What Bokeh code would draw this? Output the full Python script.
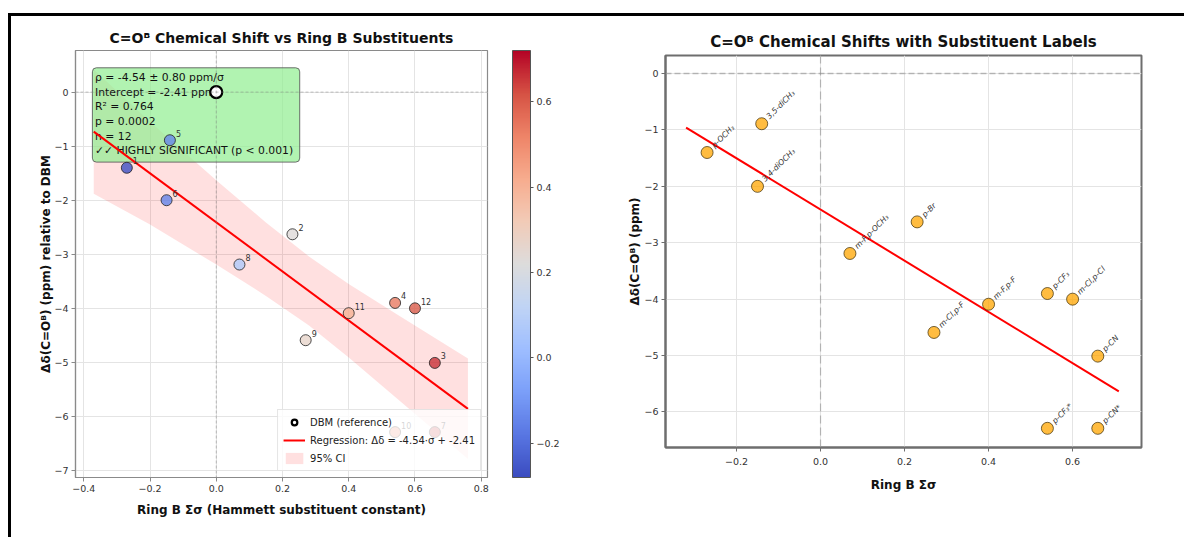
import math
import numpy as np
from bokeh.plotting import figure
from bokeh.models import (ColumnDataSource, ColorBar, FixedTicker, CustomJSTickFormatter,
                          Span, Legend, LegendItem, BoxAnnotation, Range1d, Spacer)
from bokeh.layouts import row
from bokeh.transform import linear_cmap
from bokeh.core.properties import value
from bokeh.embed import file_html
from bokeh.resources import INLINE

# ---------------- data ----------------
compound_ids = ["1", "5", "6", "8", "2", "9", "11", "4", "12", "3", "10", "7"]
substituents = ["p-OCH₃", "3,5-diCH₃", "3,4-diOCH₃", "m-F,p-OCH₃", "p-Br", "m-Cl,p-F",
                "m-F,p-F", "p-CF₃", "m-Cl,p-Cl", "p-CN", "p-CF₃*", "p-CN*"]
sigma = [-0.27, -0.14, -0.15, 0.07, 0.23, 0.27, 0.40, 0.54, 0.60, 0.66, 0.54, 0.66]
delta = [-1.40, -0.89, -2.00, -3.19, -2.63, -4.59, -4.09, -3.90, -4.00, -5.01, -6.29, -6.29]

dbm_sigma = [0.0]
dbm_delta = [0.0]

slope = -4.54
slope_err = 0.80
intercept = -2.41
r_squared = 0.764
p_value = 0.0002
n_points = 12

ci_sigma = [-0.37, -0.20, 0.00, 0.15, 0.28, 0.40, 0.55, 0.76]
ci_upper = [0.42, -0.55, -1.63, -2.41, -3.04, -3.55, -4.13, -4.93]
ci_lower = [-1.88, -2.45, -3.19, -3.77, -4.32, -4.91, -5.69, -6.79]

x_ticks_left = [-0.4, -0.2, 0.0, 0.2, 0.4, 0.6, 0.8]
y_ticks_left = [0, -1, -2, -3, -4, -5, -6, -7]
x_ticks_right = [-0.2, 0.0, 0.2, 0.4, 0.6]
y_ticks_right = [0, -1, -2, -3, -4, -5, -6]
cbar_ticks = [-0.2, 0.0, 0.2, 0.4, 0.6]

# ---------------- styling helpers ----------------
FONT = "DejaVu Sans"
coolwarm_anchors = ["#3b4cc0", "#5977e3", "#7b9ff9", "#9ebeff", "#c0d4f5", "#dddcdc",
                    "#f2cbb7", "#f7ac8e", "#ee8468", "#d65244", "#b40426"]


def build_palette(anchors, n=256):
    rgb = np.array([[int(h[i:i + 2], 16) for i in (1, 3, 5)] for h in anchors], dtype=float)
    pos = np.linspace(0, 1, len(anchors))
    t = np.linspace(0, 1, n)
    out = []
    for v in t:
        c = [int(round(np.interp(v, pos, rgb[:, k]))) for k in range(3)]
        out.append("#%02x%02x%02x" % tuple(c))
    return out


palette = build_palette(coolwarm_anchors)
fmt1 = CustomJSTickFormatter(code="return tick.toFixed(1).replace('-', '\u2212');")
fmt0 = CustomJSTickFormatter(code="return tick.toFixed(0).replace('-', '\u2212');")


def style_axes(p, xticks, yticks, frame_color, frame_width, title_size):
    p.xaxis.ticker = FixedTicker(ticks=xticks)
    p.yaxis.ticker = FixedTicker(ticks=yticks)
    p.xaxis.formatter = fmt1
    p.yaxis.formatter = fmt0
    for ax in (p.xaxis[0], p.yaxis[0]):
        ax.major_label_text_font = FONT
        ax.major_label_text_font_size = "9.5px"
        ax.major_label_text_color = "#333333"
        ax.axis_label_text_font = FONT
        ax.axis_label_text_font_size = "12px"
        ax.axis_label_text_font_style = "bold"
        ax.axis_label_text_color = "#111111"
        ax.major_tick_in = 0
        ax.major_tick_out = 4
        ax.minor_tick_in = 0
        ax.minor_tick_out = 0
        ax.major_label_standoff = 3
        ax.axis_line_color = frame_color
        ax.axis_line_width = frame_width
        ax.major_tick_line_color = frame_color
    p.outline_line_color = frame_color
    p.outline_line_width = frame_width
    p.grid.grid_line_color = "#e4e4e4"
    p.grid.grid_line_width = 1
    p.title.text_font = FONT
    p.title.text_font_size = title_size
    p.title.text_font_style = "bold"
    p.title.text_color = "#111111"
    p.title.align = "center"
    try:
        p.frame_align = False
    except Exception:
        pass


# ---------------- left figure ----------------
p1 = figure(width=590, height=521, x_range=Range1d(-0.425, 0.819), y_range=Range1d(-7.13, 0.77),
            output_backend="svg", toolbar_location=None,
            min_border_left=64, min_border_right=114, min_border_top=34, min_border_bottom=60,
            title="C=Oᴮ Chemical Shift vs Ring B Substituents")
style_axes(p1, x_ticks_left, y_ticks_left, "#8a8a8a", 1.2, "14px")
p1.xaxis.axis_label = "Ring B Σσ (Hammett substituent constant)"
p1.yaxis.axis_label = "Δδ(C=Oᴮ) (ppm) relative to DBM"
p1.xaxis.axis_label_standoff = 8
p1.yaxis.axis_label_standoff = -2

p1.add_layout(Span(location=0, dimension="width", line_color="gray", line_alpha=0.6,
                   line_width=0.8, line_dash="3 2"))
p1.add_layout(Span(location=0, dimension="height", line_color="gray", line_alpha=0.6,
                   line_width=0.8, line_dash="3 2"))

r_band = p1.varea(x=ci_sigma, y1=ci_lower, y2=ci_upper, fill_color="red", fill_alpha=0.12)

stats_box = BoxAnnotation(left=-0.374, right=0.252, top=0.45, bottom=-1.295,
                          fill_color="#90ee90", fill_alpha=0.7, line_color="#4d4d4d",
                          line_alpha=0.8, line_width=1, border_radius=4, level="glyph")
p1.renderers.append(stats_box)

stats_lines = [
    "ρ = %.2f ± %.2f ppm/σ" % (slope, slope_err),
    "Intercept = %.2f ppm" % intercept,
    "R² = %.3f" % r_squared,
    "p = %.4f" % p_value,
    "n = %d" % n_points,
    "✓✓ HIGHLY SIGNIFICANT (p < 0.001)",
]
p1.text(x=[-0.366] * len(stats_lines), y=[0.272] * len(stats_lines), text=stats_lines,
        y_offset=[i * 14.7 for i in range(len(stats_lines))],
        text_font=value(FONT), text_font_size="10.8px", text_color="#111111",
        text_baseline="middle", text_align="left")

line_x_left = [min(sigma) - 0.1, max(sigma) + 0.1]
line_y_left = [slope * v + intercept for v in line_x_left]
r_line = p1.line(x=line_x_left, y=line_y_left, line_color="red", line_width=2)

src = ColumnDataSource(dict(sigma=sigma, delta=delta, cid=compound_ids, sub=substituents))
mapper = linear_cmap("sigma", palette, low=-0.28, high=0.72)
p1.scatter(x="sigma", y="delta", source=src, size=11, fill_color=mapper, fill_alpha=0.8,
           line_color="#222222", line_alpha=0.8, line_width=1)
p1.text(x="sigma", y="delta", text="cid", source=src, x_offset=6, y_offset=-7,
        text_font=value(FONT), text_font_size="8px", text_color="#333333",
        text_baseline="alphabetic", text_align="left")
r_dbm = p1.scatter(x=dbm_sigma, y=dbm_delta, size=12, fill_color="white",
                   line_color="black", line_width=2.2)

legend = Legend(items=[
    LegendItem(label="DBM (reference)", renderers=[r_dbm]),
    LegendItem(label="Regression: Δδ = %.2f·σ + %.2f" % (slope, intercept), renderers=[r_line]),
    LegendItem(label="95% CI", renderers=[r_band]),
], location="bottom_right")
legend.label_text_font = FONT
legend.label_text_font_size = "10px"
legend.label_text_color = "#222222"
legend.glyph_width = 22
legend.glyph_height = 14
legend.label_height = 14
legend.spacing = 4
legend.padding = 5
legend.margin = 6
legend.border_line_color = "#cccccc"
legend.background_fill_alpha = 0.8
p1.add_layout(legend)

color_bar = ColorBar(color_mapper=mapper["transform"], width=18, padding=0,
                     ticker=FixedTicker(ticks=cbar_ticks), formatter=fmt1,
                     major_label_text_font=FONT, major_label_text_font_size="9.5px",
                     major_label_text_color="#333333", major_tick_in=0, major_tick_out=3,
                     major_tick_line_color="#555555", label_standoff=3,
                     bar_line_color="#555555", border_line_color=None,
                     background_fill_color=None, location=(25, 0))
p1.add_layout(color_bar, "right")

# ---------------- right figure ----------------
p2 = figure(width=569, height=521, x_range=Range1d(-0.369, 0.764), y_range=Range1d(-6.63, 0.32),
            output_backend="svg", toolbar_location=None,
            min_border_left=64, min_border_right=29, min_border_top=39, min_border_bottom=90,
            title="C=Oᴮ Chemical Shifts with Substituent Labels")
style_axes(p2, x_ticks_right, y_ticks_right, "#6e6e6e", 2, "15px")
p2.xaxis.axis_label = "Ring B Σσ"
p2.yaxis.axis_label = "Δδ(C=Oᴮ) (ppm)"
p2.xaxis.major_label_standoff = 6
p2.xaxis.axis_label_standoff = 10
p2.yaxis.axis_label_standoff = -1

p2.add_layout(Span(location=0, dimension="width", line_color="gray", line_alpha=0.5,
                   line_width=1.5, line_dash="6 3"))
p2.add_layout(Span(location=0, dimension="height", line_color="gray", line_alpha=0.5,
                   line_width=1.2, line_dash="8 4"))

line_x_right = [min(sigma) - 0.05, max(sigma) + 0.05]
line_y_right = [slope * v + intercept for v in line_x_right]
p2.line(x=line_x_right, y=line_y_right, line_color="red", line_width=2)

p2.scatter(x="sigma", y="delta", source=src, size=12, fill_color="orange", fill_alpha=0.75,
           line_color="#3a2a00", line_alpha=0.7, line_width=1)
p2.text(x="sigma", y="delta", text="sub", source=src, x_offset=6, y_offset=-6,
        angle=math.pi / 4, text_font=value(FONT), text_font_size="7.8px",
        text_font_style="italic", text_color="#333333",
        text_baseline="alphabetic", text_align="left")

layout = row(p1, p2, Spacer(width=14, height=10), margin=(13, 0, 0, 8),
             styles={"border-top": "3px solid black", "border-left": "3px solid black"})

open("out.html", "w").write(file_html(layout, INLINE))
